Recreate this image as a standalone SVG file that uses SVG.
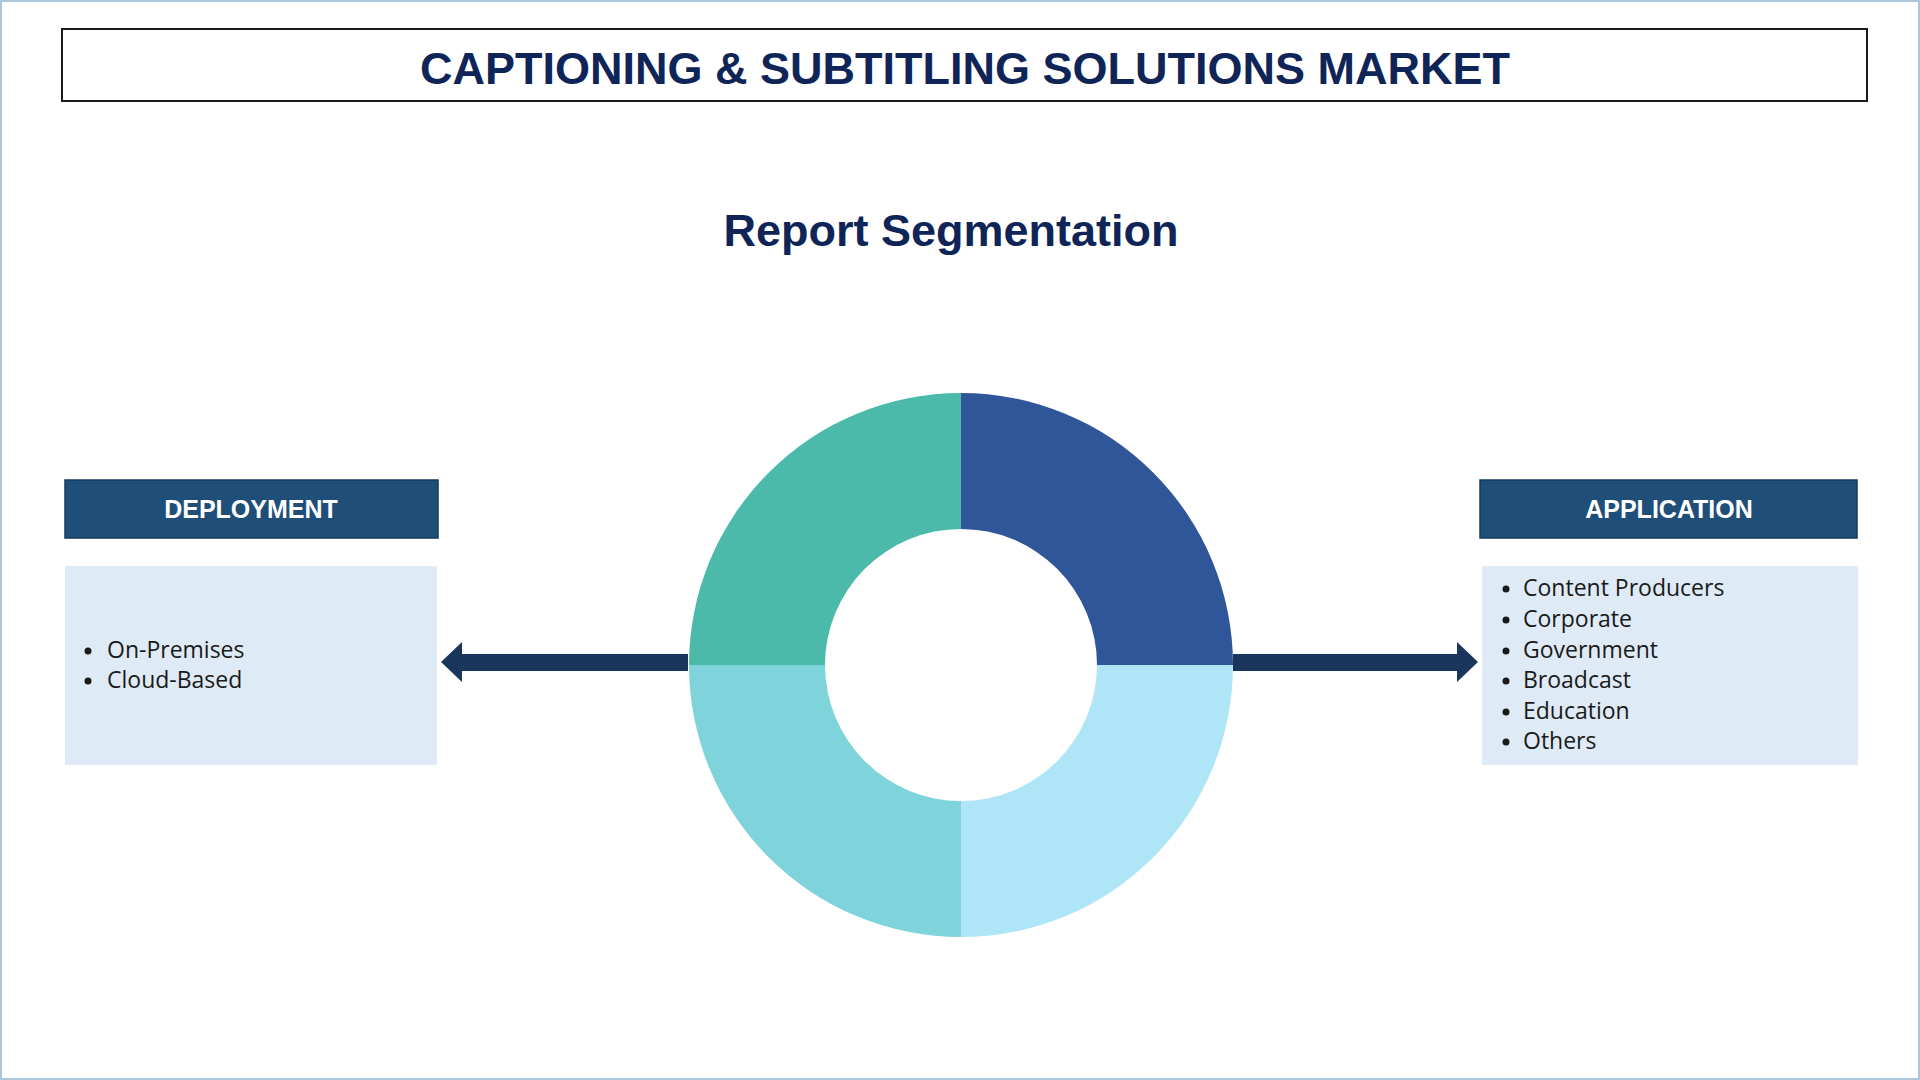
<svg xmlns="http://www.w3.org/2000/svg" width="1920" height="1080" viewBox="0 0 1920 1080">
<style>
.hdr{font-family:"Liberation Sans",Arial,sans-serif;font-weight:bold;fill:#FFFFFF;font-size:25px;text-anchor:middle}
.item{font-family:"Open Sans","Liberation Sans",sans-serif;fill:#1a1a1a;font-size:23px}
.ttl{font-family:"Liberation Sans",Arial,sans-serif;font-weight:bold;fill:#0F2557;text-anchor:middle}
.hbox{fill:#1F4E79;stroke:#163A5C;stroke-width:1.5}
.lbox{fill:#DEEAF5}
.arr{fill:#1B365D}
</style>
<rect x="1" y="1" width="1918" height="1078" fill="#FFFFFF" stroke="#A9C8DE" stroke-width="2"/>
<g id="title">
<rect x="62" y="29" width="1805" height="72" fill="#FFFFFF" stroke="#1a1a1a" stroke-width="2"/>
<text class="ttl" x="965" y="84" font-size="45">CAPTIONING &amp; SUBTITLING SOLUTIONS MARKET</text>
</g>
<g id="subtitle"><text class="ttl" x="951" y="246" font-size="45">Report Segmentation</text></g>
<g id="donut">
<path d="M961,393 A272,272 0 0 1 1233,665 L1097,665 A136,136 0 0 0 961,529 Z" fill="#30569A"/>
<path d="M1233,665 A272,272 0 0 1 961,937 L961,801 A136,136 0 0 0 1097,665 Z" fill="#AEE6F8"/>
<path d="M961,937 A272,272 0 0 1 689,665 L825,665 A136,136 0 0 0 961,801 Z" fill="#7FD4DC"/>
<path d="M689,665 A272,272 0 0 1 961,393 L961,529 A136,136 0 0 0 825,665 Z" fill="#4BBAAA"/>
</g>
<g id="connectors">
<polygon class="arr" points="688,654 462,654 462,642 441,662 462,682 462,671 688,671"/>
<polygon class="arr" points="1233,654 1457,654 1457,642 1478,662 1457,682 1457,671 1233,671"/>
</g>
<g id="deployment">
<rect class="hbox" x="65" y="480" width="373" height="58"/>
<text class="hdr" x="251" y="518">DEPLOYMENT</text>
<rect class="lbox" x="65" y="566" width="372" height="199"/>
<circle cx="88" cy="651" r="3.5" fill="#1a1a1a"/>
<text class="item" x="107" y="658">On-Premises</text>
<circle cx="88" cy="681" r="3.5" fill="#1a1a1a"/>
<text class="item" x="107" y="688">Cloud-Based</text>
</g>
<g id="application">
<rect class="hbox" x="1480" y="480" width="377" height="58"/>
<text class="hdr" x="1669" y="518">APPLICATION</text>
<rect class="lbox" x="1482" y="566" width="376" height="199"/>
<g fill="#1a1a1a">
<circle cx="1506" cy="589" r="3.5"/><circle cx="1506" cy="620" r="3.5"/><circle cx="1506" cy="651" r="3.5"/>
<circle cx="1506" cy="681" r="3.5"/><circle cx="1506" cy="712" r="3.5"/><circle cx="1506" cy="742" r="3.5"/>
</g>
<text class="item" x="1523" y="596">Content Producers</text>
<text class="item" x="1523" y="627">Corporate</text>
<text class="item" x="1523" y="658">Government</text>
<text class="item" x="1523" y="688">Broadcast</text>
<text class="item" x="1523" y="719">Education</text>
<text class="item" x="1523" y="749">Others</text>
</g>
</svg>
